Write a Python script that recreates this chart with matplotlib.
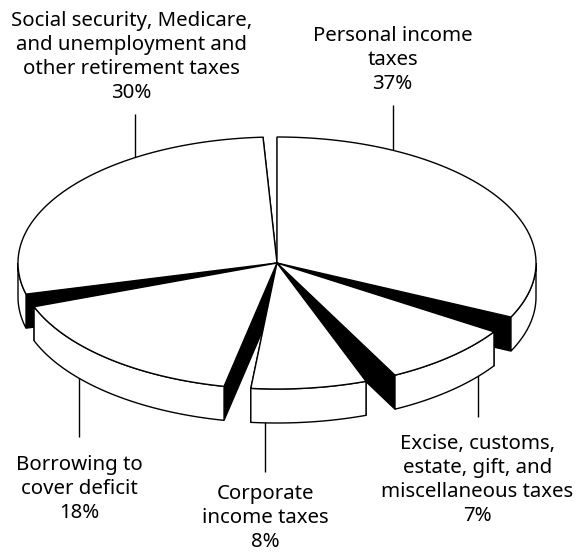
import numpy as np
import matplotlib
matplotlib.use("Agg")
import matplotlib.pyplot as plt
from matplotlib.patches import Polygon

# Slices in drawing order around the pie, clockwise from the top
categories = ["Personal income\ntaxes", "Excise, customs,\nestate, gift, and\nmiscellaneous taxes",
              "Corporate\nincome taxes", "Borrowing to\ncover deficit",
              "Social security, Medicare,\nand unemployment and\nother retirement taxes"]
percent_labels = [37, 7, 8, 18, 30]
# Angular sweep of each slice and the gap following it (degrees)
slice_sweep = [115.4, 29.8, 25.9, 57.9, 101.2]
gap_after = [7.7, 7.0, 6.0, 6.0, 3.1]
start_angle = 0.0

CX, CY, A, B, D = 277, 263, 259, 126, 34
LW = 1.0
LINE_PITCH = 24
plt.rcParams["font.family"] = ["Noto Sans", "DejaVu Sans"]

fig = plt.figure(figsize=(5.76, 5.52), dpi=100)
ax = fig.add_axes([0, 0, 1, 1])
ax.set_xlim(0, 576)
ax.set_ylim(552, 0)
ax.axis("off")


def pt(t, dz=0):
    r = np.radians(t)
    return np.column_stack([CX + A * np.sin(r), CY - B * np.cos(r) + dz])


bounds = []
a = start_angle
for s, g in zip(slice_sweep, gap_after):
    bounds.append((a, a + s))
    a += s + g

# leader lines sit behind the pie
leaders = [(393, 105, 393, 175), (478, 370, 478, 417), (265, 415, 265, 472),
           (79, 375, 79, 437), (135, 114, 135, 160)]
for x0, y0, x1, y1 in leaders:
    ax.plot([x0, x1], [y0, y1], color="black", lw=LW, zorder=1, solid_capstyle="butt")

order = [4, 0, 3, 1, 2]  # back to front
z = 2
for i in order:
    t0, t1 = bounds[i]
    c = np.array([[CX, CY]])
    for t in (t0, t1):  # black cut faces
        p = pt(t)
        q = pt(t, D)
        ax.add_patch(Polygon(np.vstack([c, p, q, c + [0, D]]), closed=True, fc="black",
                             ec="black", lw=LW, zorder=z))
    lo, hi = max(t0, 90), min(t1, 270)
    if hi > lo:  # white outer rim
        ts = np.linspace(lo, hi, 120)
        ax.add_patch(Polygon(np.vstack([pt(ts), pt(ts[::-1], D)]), closed=True, fc="white",
                             ec="black", lw=LW, zorder=z + 0.1))
    ts = np.linspace(t0, t1, 240)
    ax.add_patch(Polygon(np.vstack([c, pt(ts)]), closed=True, fc="white", ec="black",
                         lw=LW, joinstyle="miter", zorder=z + 0.2))
    z += 1

# centre x and first-line baseline of each label
label_pos = [(392.5, 41), (477.5, 449), (265, 499), (79, 470), (131.5, 26)]
for name, pct, (x, y) in zip(categories, percent_labels, label_pos):
    for k, line in enumerate(f"{name}\n{pct}%".split("\n")):
        ax.text(x, y + k * LINE_PITCH, line, ha="center", va="baseline", fontsize=14.7,
                color="black", zorder=20, clip_on=False)

fig.savefig("out.png", dpi=100)
